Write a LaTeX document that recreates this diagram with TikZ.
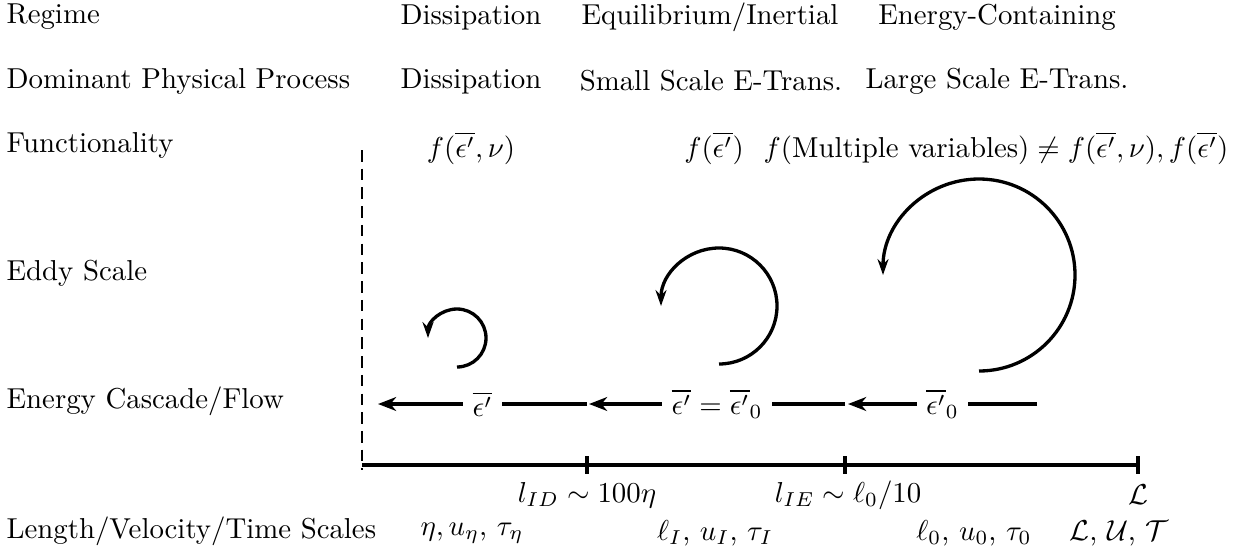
\documentclass[tikz,border=0pt]{standalone}
\usepackage{amsmath,amssymb}
\usetikzlibrary{arrows.meta}
\begin{document}
\begin{tikzpicture}[x=0.347pt,y=-0.347pt,
  lbl/.style={anchor=west,inner sep=0pt},
  coltext/.style={inner sep=0pt},
  flow/.style={line width=1.7pt,-{Stealth[length=6.3pt,width=4.8pt,inset=2pt]}},
  eddy/.style={line width=1.15pt,-{Stealth[length=5.5pt,width=3.8pt,inset=1.8pt]}},
  axisline/.style={line width=1.7pt},
  divider/.style={line width=0.9pt,dash pattern=on 4pt off 2.5pt}]
\useasboundingbox (0,0) rectangle (1240,554);
% left labels
\node[lbl] (rRegime) at (6,17) {Regime};
\node[lbl] (rProc) at (6,81) {Dominant Physical Process};
\node[lbl] (rFunc) at (6,145) {Functionality};
\node[lbl] (rEddy) at (6,273) {Eddy Scale};
\node[lbl] (rFlow) at (6,401) {Energy Cascade/Flow};
\node[lbl] (rScale) at (6,531) {Length/Velocity/Time Scales};
% regime row
\node[coltext] (reg1) at (471,17) {Dissipation};
\node[coltext] (reg2) at (710,17) {Equilibrium/Inertial};
\node[coltext] (reg3) at (997,17) {Energy-Containing};
% process row
\node[coltext] (pro1) at (471,81) {Dissipation};
\node[coltext] (pro2) at (711,81) {Small Scale E-Trans.};
\node[coltext] (pro3) at (997,81) {Large Scale E-Trans.};
% functionality row
\node[coltext] (fun1) at (471,148) {$f(\overline{\epsilon'},\nu)$};
\node[coltext] (fun2) at (714,148) {$f(\overline{\epsilon'})$};
\node[coltext] (fun3) at (996,148) {$f(\text{Multiple variables})\neq f(\overline{\epsilon'},\nu), f(\overline{\epsilon'})$};
% dashed divider
\coordinate (dtop) at (362,150);
\coordinate (dbot) at (362,470);
\draw[divider] (dtop) -- (dbot);
% axis
\coordinate (a0) at (362,465);
\coordinate (t1) at (587,465);
\coordinate (t2) at (845,465);
\coordinate (t3) at (1138,465);
\draw[axisline] (a0) -- (t3);
\foreach \t in {t1,t2,t3} \draw[axisline] (\t) ++(0,-9) -- ++(0,18);
\node[coltext] (ax1) at (587,495) {$l_{ID}\sim 100\eta$};
\node[coltext] (ax2) at (848,495) {$l_{IE}\sim \ell_0/10$};
\node[coltext] (ax3) at (1138,495) {$\mathcal{L}$};
% scales row
\node[coltext] (sc1) at (472,533) {$\eta, u_\eta$, $\tau_\eta$};
\node[coltext] (sc2) at (715,533) {$\ell_I$, $u_I$, $\tau_I$};
\node[coltext] (sc3) at (974,533) {$\ell_0$, $u_0$, $\tau_0$};
\node[coltext] (sc4) at (1119,533) {$\mathcal{L}$, $\mathcal{U}$, $\mathcal{T}$};
% energy flow
\coordinate (f1s) at (587,404); \coordinate (f1e) at (378,404);
\coordinate (f2s) at (845,404); \coordinate (f2e) at (589,404);
\coordinate (f3s) at (1037,404); \coordinate (f3e) at (848,404);
\draw[flow] (f1s) -- node[fill=white] (e1) {$\overline{\epsilon'}$} (f1e);
\draw[flow] (f2s) -- node[fill=white] (e2) {$\overline{\epsilon'}=\overline{\epsilon'}_0$} (f2e);
\draw[flow] (f3s) -- node[fill=white] (e3) {$\overline{\epsilon'}_0$} (f3e);
% eddies (start at the bottom of each circle)
\coordinate (s1) at (457,367);
\coordinate (s2) at (719,364);
\coordinate (s3) at (979,371);
\draw[eddy] (s1) arc (90:-180:29);
\draw[eddy] (s2) arc (90:-180:58);
\draw[eddy] (s3) arc (90:-180:96);
\end{tikzpicture}
\end{document}
